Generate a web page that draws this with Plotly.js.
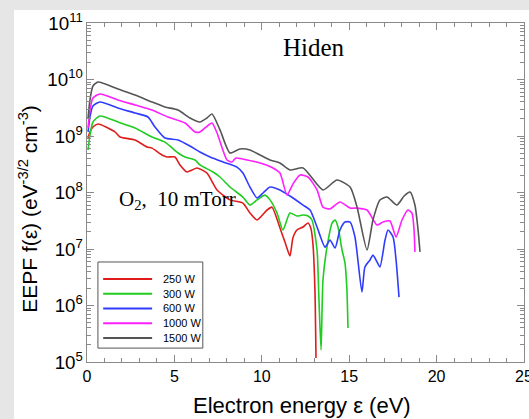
<!DOCTYPE html>
<html>
<head>
<meta charset="utf-8">
<script src="https://cdn.plot.ly/plotly-3.0.1.min.js"></script>
<style>
html,body{margin:0;padding:0;background:#e6e6e6;width:529px;height:419px;overflow:hidden;}
#chart{position:absolute;left:0;top:0;width:529px;height:419px;}
</style>
</head>
<body>
<div id="chart"></div>
<script>
// Series names and colours
const seriesNames = ["250 W", "300 W", "600 W", "1000 W", "1500 W"];
const seriesColors = ["#e01b1b", "#1fcc1f", "#2f3cff", "#ff1fff", "#555555"];

// Electron energy (eV) and EEPF (eV^-3/2 cm^-3)
const e250 = [0.06,0.17,0.34,0.63,1.60,1.89,2.75,3.43,3.72,4.29,4.58,5.03,5.32,5.72,6.01,6.29,6.86,7.44,8.18,8.92,9.32,9.73,10.30,10.58,11.04,11.38,11.61,11.78,12.01,12.36,12.64,12.81,12.93,13.04,13.10];
const f250 = [9.2e8,1.18e9,1.44e9,1.63e9,1.18e9,9.6e8,8.5e8,6.4e8,6.1e8,4.6e8,4.25e8,4.25e8,3.07e8,2.31e8,2.5e8,2.72e8,2.21e8,1.11e8,7.4e7,6.5e7,4.34e7,3.26e7,4.9e7,5.5e7,2.36e7,1.18e7,7.5e6,1.57e7,2.17e7,2.45e7,2.88e7,2.3e7,1.18e7,1.88e6,1.18e5];

const e300 = [0.06,0.17,0.34,0.74,1.77,2.75,3.72,4.46,5.21,5.61,6.18,6.46,7.21,7.61,8.18,8.92,9.32,9.73,10.18,10.47,10.87,11.21,11.61,12.01,12.36,12.64,12.87,13.16,13.27,13.39,13.50,13.73,14.02,14.19,14.36,14.59,14.76,14.87,14.93];
const f300 = [5.65e8,1.04e9,1.77e9,2.26e9,1.77e9,1.39e9,9.6e8,7.8e8,5.0e8,4.25e8,3.76e8,3.07e8,2.31e8,1.88e8,1.25e8,8.3e7,6.0e7,7.4e7,9.0e7,7.4e7,4.34e7,2.17e7,4.34e7,3.84e7,4.0e7,3.84e7,3.26e7,9.6e6,1.25e6,1.63e5,2.83e6,1.08e7,2.88e7,3.26e7,2.45e7,9.6e6,5.65e6,1.88e6,4.0e5];

const e600 = [0.06,0.17,0.34,0.74,1.77,2.75,3.49,3.89,4.46,5.21,5.89,6.46,7.04,7.78,8.58,8.92,9.32,9.73,10.07,10.47,11.04,11.61,12.36,12.76,13.16,13.62,13.90,14.19,14.47,14.76,15.05,15.33,15.73,15.90,16.19,16.36,16.59,16.76,17.05,17.22,17.51,17.68,17.85];
const f600 = [1.18e9,2.17e9,3.4e9,4.0e9,3.13e9,2.55e9,2.17e9,1.44e9,9.2e8,8.5e8,6.65e8,5.2e8,4.25e8,3.47e8,2.82e8,2.21e8,1.25e8,8.0e7,9.8e7,1.25e8,1.11e8,8.67e7,6.0e7,4.9e7,2.45e7,1.08e7,1.44e7,1.04e7,2.17e7,3.0e7,3.0e7,1.63e7,1.73e6,4.8e6,6.4e6,7.8e6,5.9e6,4.8e6,1.44e7,2.17e7,1.63e7,6.4e6,1.41e6];

const e1000 = [0.06,0.17,0.34,0.74,1.77,2.75,3.72,4.63,5.61,6.18,6.46,6.81,7.15,7.44,8.01,8.30,8.52,9.15,9.90,10.64,11.04,11.44,11.78,12.19,12.64,13.16,13.50,13.90,14.47,15.05,15.45,16.02,16.59,16.93,17.33,17.68,18.02,18.36,18.59,18.71,18.76];
const f1000 = [1.39e9,2.88e9,4.71e9,5.54e9,4.34e9,3.54e9,2.88e9,2.17e9,1.7e9,1.18e9,1.18e9,1.44e9,1.7e9,1.13e9,3.76e8,3.47e8,4.08e8,3.76e8,3.33e8,2.72e8,2.21e8,9.0e7,1.41e8,2.04e8,1.88e8,1.11e8,5.5e7,5.1e7,6.8e7,5.3e7,5.3e7,4.9e7,2.66e7,3.0e7,3.13e7,1.63e7,3.26e7,4.9e7,4.34e7,2.17e7,8.9e6];

const e1500 = [0.06,0.17,0.34,0.63,1.77,2.75,3.72,4.46,5.21,5.89,6.46,6.86,7.15,7.61,8.18,8.75,9.32,9.90,10.47,11.04,11.61,12.36,13.50,14.30,15.05,15.45,16.02,16.36,16.76,17.16,17.73,18.14,18.48,18.76,18.94,19.05];
const f1500 = [2.08e9,4.34e9,7.67e9,9.03e9,6.79e9,5.32e9,4.0e9,3.26e9,2.88e9,2.08e9,1.77e9,2.08e9,2.45e9,1.28e9,5.0e8,5.89e8,5.65e8,4.61e8,3.76e8,3.33e8,2.5e8,2.72e8,1.11e8,1.66e8,1.25e8,5.5e7,9.6e6,3.26e7,7.36e7,8.32e7,6.0e7,8.67e7,1.02e8,6.0e7,2.17e7,8.9e6];

const xTickVals = [0, 5, 10, 15, 20, 25];
const xTitle = "Electron energy ε (eV)";
const yTitle = "EEPF f(ε) (eV<sup>-3/2</sup> cm<sup>-3</sup>)";
const titleText = "Hiden";
const condText = "O<sub>2</sub>,  10 mTorr";

const energies = [e250, e300, e600, e1000, e1500];
const values = [f250, f300, f600, f1000, f1500];

const traces = seriesNames.map((n, i) => ({
  type: "scatter", mode: "lines", name: n,
  x: energies[i], y: values[i],
  line: {color: seriesColors[i], width: 1.6, shape: "spline", smoothing: 0.6},
  showlegend: false, hoverinfo: "skip"
}));

const frame = "#8a8a8a";
const sans = "Liberation Sans, Arial, sans-serif";
const serif = "Liberation Serif, Times New Roman, serif";

// white panel behind the chart (the picture has a grey border at left and top)
const shapes = [
  {type: "rect", xref: "paper", yref: "paper", x0: -0.167, x1: 1.02, y0: -0.2, y1: 1.038,
   line: {width: 0}, fillcolor: "#ffffff", layer: "below"},
  {type: "rect", xref: "paper", yref: "paper", x0: 0.025, x1: 0.265, y0: 0.041, y1: 0.295,
   line: {color: "#555", width: 1}, fillcolor: "rgba(255,255,255,0)"}
];
const annotations = [
  {xref: "paper", yref: "paper", x: 0.519, y: 0.929, xanchor: "center", yanchor: "middle",
   text: titleText, showarrow: false, font: {family: serif, size: 25, color: "#000"}},
  {xref: "paper", yref: "paper", x: 0.068, y: 0.478, xanchor: "left", yanchor: "middle",
   text: condText, showarrow: false, font: {family: serif, size: 21, color: "#000"}},
  {xref: "paper", yref: "paper", x: 0.492, y: -0.127, xanchor: "center", yanchor: "middle",
   text: xTitle, showarrow: false, font: {family: sans, size: 22, color: "#000"}},
  {xref: "paper", yref: "paper", x: -0.135, y: 0.452, xanchor: "center", yanchor: "middle", textangle: -90,
   text: yTitle, showarrow: false, font: {family: sans, size: 21, color: "#000"}}
];
seriesNames.forEach((n, i) => {
  const yy = 0.245 - i * 0.0435;
  shapes.push({type: "line", xref: "paper", yref: "paper", x0: 0.037, x1: 0.149, y0: yy, y1: yy,
    line: {color: seriesColors[i], width: 2}});
  annotations.push({xref: "paper", yref: "paper", x: 0.169, y: yy, xanchor: "left", yanchor: "middle",
    text: n, showarrow: false, font: {family: sans, size: 11, color: "#000"}});
});

const layout = {
  width: 529, height: 419,
  margin: {l: 87, r: 5, t: 23, b: 57},
  paper_bgcolor: "#e6e6e6", plot_bgcolor: "rgba(0,0,0,0)",
  showlegend: false,
  xaxis: {
    range: [0, 25], tickvals: xTickVals, ticks: "inside", ticklen: 7, tickwidth: 1, tickcolor: frame,
    showline: true, linecolor: frame, linewidth: 1.2, mirror: "ticks", showgrid: false, zeroline: false,
    ticklabeloverflow: "allow",
    tickfont: {family: sans, size: 16, color: "#000"},
    minor: {dtick: 1, ticks: "inside", ticklen: 4, tickcolor: frame, showgrid: false}
  },
  yaxis: {
    type: "log", range: [5, 11], dtick: 1, exponentformat: "power",
    ticks: "inside", ticklen: 7, tickwidth: 1, tickcolor: frame,
    showline: true, linecolor: frame, linewidth: 1.2, mirror: "ticks", showgrid: false, zeroline: false,
    ticklabeloverflow: "allow",
    tickfont: {family: sans, size: 15, color: "#000"},
    minor: {dtick: "D1", ticks: "inside", ticklen: 4, tickcolor: frame, showgrid: false}
  },
  shapes: shapes,
  annotations: annotations
};

Plotly.newPlot("chart", traces, layout, {staticPlot: true, displayModeBar: false});
</script>
</body>
</html>
